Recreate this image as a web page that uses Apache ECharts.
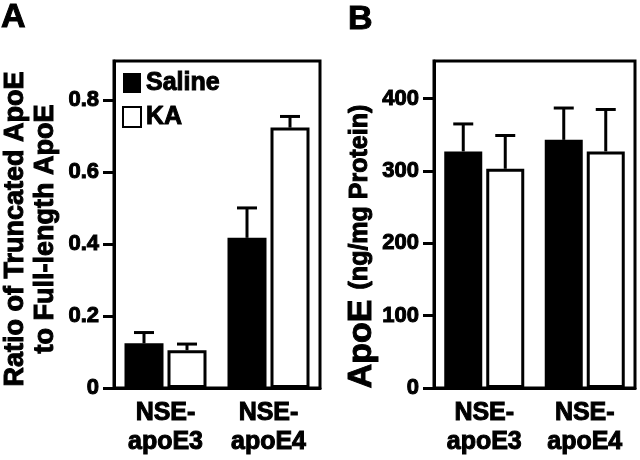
<!DOCTYPE html>
<html>
<head>
<meta charset="utf-8">
<script src="https://cdn.jsdelivr.net/npm/echarts@6/dist/echarts.min.js"></script>
<style>html,body{margin:0;padding:0;background:#fff;}#c{width:640px;height:460px;}</style>
</head>
<body>
<div id="c"></div>
<script>
// ---- data ----
var categories = ['NSE-\napoE3', 'NSE-\napoE4'];
var seriesNames = ['Saline', 'KA'];
// Panel A: ratio of truncated ApoE to full-length ApoE
var ratioSaline = [0.124, 0.417];
var ratioSalineErr = [0.030, 0.083];
var ratioKA = [0.105, 0.723];
var ratioKAErr = [0.017, 0.031];
var ratioTicks = [0, 0.2, 0.4, 0.6, 0.8];
// Panel B: ApoE (ng/mg protein)
var apoeSaline = [327, 343];
var apoeSalineErr = [38, 44];
var apoeKA = [303, 327];
var apoeKAErr = [46, 58];
var apoeTicks = [0, 100, 200, 300, 400];

var FONT = '"Liberation Sans", Arial, Helvetica, sans-serif';
var STROKE = {textBorderColor: '#000', textBorderWidth: 1};
var chart = echarts.init(document.getElementById('c'), null, {renderer: 'canvas'});

function errSeries(name, means, errs, gridIdx, side, barW, gap) {
  var off = side * (barW / 2 + gap / 2);
  return {
    type: 'custom', name: name + ' err', xAxisIndex: gridIdx, yAxisIndex: gridIdx, z: 10,
    silent: true,
    data: means.map(function (m, i) { return [i, m, errs[i]]; }),
    renderItem: function (params, api) {
      var base = api.coord([api.value(0), api.value(1)]);
      var top = api.coord([api.value(0), api.value(1) + api.value(2)]);
      var x = base[0] + off;
      var cap = 10;
      return {
        type: 'group',
        children: [
          {type: 'line', shape: {x1: x, y1: base[1], x2: x, y2: top[1]}, style: {stroke: '#000', lineWidth: 3}},
          {type: 'line', shape: {x1: x - cap, y1: top[1], x2: x + cap, y2: top[1]}, style: {stroke: '#000', lineWidth: 3}}
        ]
      };
    }
  };
}

var barWA = 39, gapA = 4, barWB = 38, gapB = 4;

function xAxisCfg(gi) {
  return {
    type: 'category', gridIndex: gi, data: categories,
    axisLine: {show: true, lineStyle: {color: '#000', width: 3}},
    axisTick: {show: false},
    axisLabel: Object.assign({color: '#000', fontFamily: FONT, fontWeight: 'bold', fontSize: 25, lineHeight: 29, margin: 11}, STROKE)
  };
}

var option = {
  backgroundColor: '#fff',
  animation: false,
  title: [
    {text: 'A', left: 1, top: 1, padding: 0, textStyle: Object.assign({fontFamily: FONT, fontWeight: 'bold', fontSize: 34, color: '#000'}, STROKE)},
    {text: 'B', left: 348, top: 3, padding: 0, textStyle: Object.assign({fontFamily: FONT, fontWeight: 'bold', fontSize: 34, color: '#000'}, STROKE)}
  ],
  legend: {
    left: 122, top: 70, orient: 'vertical', itemWidth: 18, itemHeight: 20, itemGap: 8, padding: 0,
    icon: 'rect',
    data: seriesNames,
    textStyle: Object.assign({fontFamily: FONT, fontWeight: 'bold', fontSize: 25, color: '#000'}, STROKE)
  },
  grid: [
    {left: 111, top: 61, width: 209, height: 327, show: true, borderColor: '#000', borderWidth: 3, backgroundColor: 'transparent'},
    {left: 434, top: 61, width: 201, height: 327, show: true, borderColor: '#000', borderWidth: 3, backgroundColor: 'transparent'}
  ],
  xAxis: [xAxisCfg(0), xAxisCfg(1)],
  yAxis: [
    {
      type: 'value', gridIndex: 0, min: 0, max: 0.908,
      name: 'Ratio of Truncated ApoE\nto Full-length ApoE', nameLocation: 'middle', nameRotate: 90, nameGap: 53,
      nameMoveOverlap: false,
      nameTextStyle: Object.assign({fontFamily: FONT, fontWeight: 'bold', fontSize: 27, lineHeight: 30, color: '#000', padding: [0, 9, 0, 0]}, STROKE),
      splitLine: {show: false},
      axisLine: {show: true, lineStyle: {color: '#000', width: 3}},
      axisTick: {show: true, length: 11, lineStyle: {color: '#000', width: 3}, customValues: ratioTicks},
      axisLabel: Object.assign({color: '#000', fontFamily: FONT, fontWeight: 'bold', fontSize: 22, margin: 15, customValues: ratioTicks,
        formatter: function (v) { return v === 0 ? '0' : v.toFixed(1); }}, STROKE)
    },
    {
      type: 'value', gridIndex: 1, min: 0, max: 452,
      name: '{a|ApoE}{b|(ng/mg Protein)}', nameLocation: 'middle', nameRotate: 90, nameGap: 53,
      nameMoveOverlap: false,
      nameTextStyle: {color: '#000', padding: [0, 44, 0, 0],
        rich: {
          a: Object.assign({fontFamily: FONT, fontWeight: 'bold', fontSize: 34, lineHeight: 36, verticalAlign: 'top', color: '#000'}, STROKE),
          b: Object.assign({fontFamily: FONT, fontWeight: 'bold', fontSize: 25, lineHeight: 26, verticalAlign: 'top', color: '#000', padding: [3, 0, 0, 10]}, STROKE)
        }},
      splitLine: {show: false},
      axisLine: {show: true, lineStyle: {color: '#000', width: 3}},
      axisTick: {show: true, length: 11, lineStyle: {color: '#000', width: 3}, customValues: apoeTicks},
      axisLabel: Object.assign({color: '#000', fontFamily: FONT, fontWeight: 'bold', fontSize: 22, margin: 15, customValues: apoeTicks}, STROKE)
    }
  ],
  series: [
    {name: 'Saline', type: 'bar', xAxisIndex: 0, yAxisIndex: 0, data: ratioSaline, barWidth: barWA, barGap: (gapA / barWA * 100) + '%',
      itemStyle: {color: '#000', borderColor: '#000', borderWidth: 0}},
    {name: 'KA', type: 'bar', xAxisIndex: 0, yAxisIndex: 0, data: ratioKA, barWidth: barWA, barGap: (gapA / barWA * 100) + '%',
      itemStyle: {color: '#fff', borderColor: '#000', borderWidth: 3}},
    {name: 'Saline', type: 'bar', xAxisIndex: 1, yAxisIndex: 1, data: apoeSaline, barWidth: barWB, barGap: (gapB / barWB * 100) + '%',
      itemStyle: {color: '#000', borderColor: '#000', borderWidth: 0}},
    {name: 'KA', type: 'bar', xAxisIndex: 1, yAxisIndex: 1, data: apoeKA, barWidth: barWB, barGap: (gapB / barWB * 100) + '%',
      itemStyle: {color: '#fff', borderColor: '#000', borderWidth: 3}},
    errSeries('Saline', ratioSaline, ratioSalineErr, 0, -1, barWA, gapA),
    errSeries('KA', ratioKA, ratioKAErr, 0, 1, barWA, gapA),
    errSeries('Saline', apoeSaline, apoeSalineErr, 1, -1, barWB, gapB),
    errSeries('KA', apoeKA, apoeKAErr, 1, 1, barWB, gapB)
  ]
};
chart.setOption(option);
</script>
</body>
</html>
